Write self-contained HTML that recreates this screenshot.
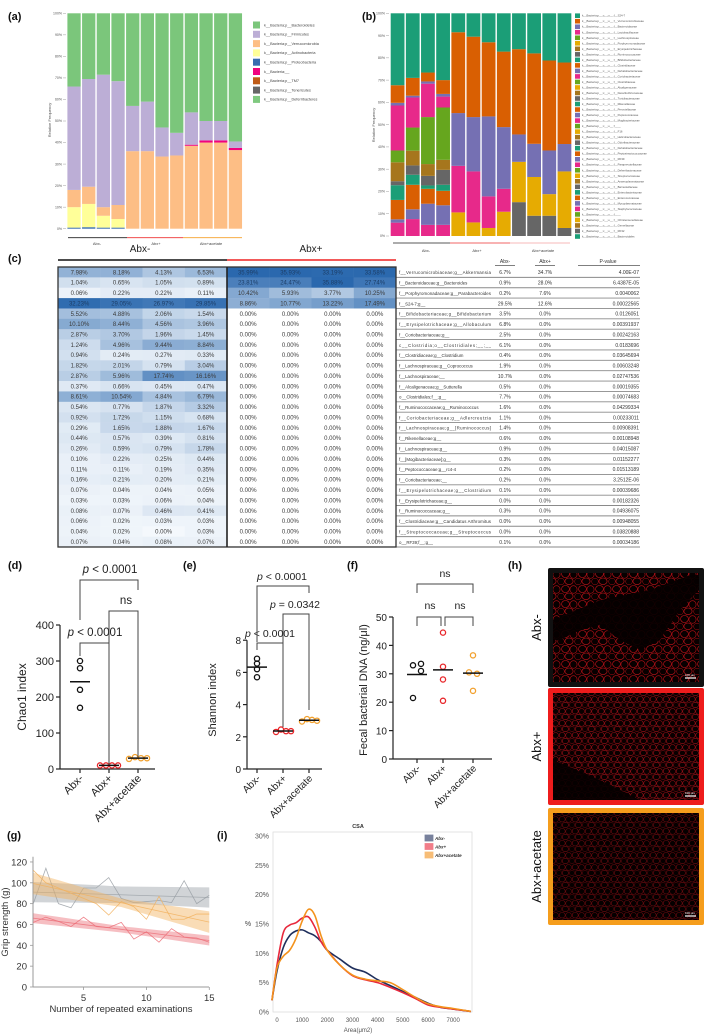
<!DOCTYPE html>
<html><head><meta charset="utf-8">
<style>
html,body{margin:0;padding:0;background:#fff;}
svg{display:block;font-family:"Liberation Sans",Arial,sans-serif;}
</style></head>
<body>
<svg id="fig" width="709" height="1035" viewBox="0 0 709 1035" xmlns="http://www.w3.org/2000/svg">
<defs>
<pattern id="cellsA" width="17" height="15" patternUnits="userSpaceOnUse">
<rect width="17" height="15" fill="#070000"/>
<ellipse cx="4.5" cy="4" rx="3.9" ry="3.5" fill="none" stroke="#c8121a" stroke-width="0.6"/>
<ellipse cx="12.5" cy="4.5" rx="3.6" ry="3.8" fill="none" stroke="#b80f15" stroke-width="0.6"/>
<ellipse cx="8" cy="11.3" rx="4.1" ry="3.3" fill="none" stroke="#cc141b" stroke-width="0.6"/>
<ellipse cx="16.5" cy="11.5" rx="2.8" ry="3.1" fill="none" stroke="#a90d13" stroke-width="0.5"/>
<ellipse cx="0.5" cy="11.5" rx="2.8" ry="3.1" fill="none" stroke="#a90d13" stroke-width="0.5"/>
</pattern>
<pattern id="cellsB" width="13" height="12" patternUnits="userSpaceOnUse">
<rect width="13" height="12" fill="#080000"/>
<ellipse cx="3.2" cy="3.2" rx="3" ry="2.8" fill="none" stroke="#a8111a" stroke-width="0.55"/>
<ellipse cx="9.6" cy="3.4" rx="2.9" ry="2.9" fill="none" stroke="#990e15" stroke-width="0.55"/>
<ellipse cx="6.4" cy="9" rx="3.2" ry="2.7" fill="none" stroke="#b0131b" stroke-width="0.55"/>
<ellipse cx="13" cy="9" rx="2.6" ry="2.6" fill="none" stroke="#900d13" stroke-width="0.5"/>
<ellipse cx="0" cy="9" rx="2.6" ry="2.6" fill="none" stroke="#900d13" stroke-width="0.5"/>
</pattern>
</defs>
</svg>
<script>
// ---------------- DATA ----------------
// (a) phylum composition, % per sample (12 samples)
const aProteo  = [0.5,0.7,0.5,0.5,0,0,0,0,0,0,0,0];
const aActino  = [9.5,10.8,5.5,4,0,0,0,0,0,0,0,0];
const aVerruco = [8,8,4,6.5,36,36,33.5,34,38.5,40,40,36.5];
const aOther   = [0,0,0,0,0,0,0,0,0.5,1,1,1];
const aFirm    = [48,50,61.5,57.5,21,23,13.5,10.5,15,9,9,3];
const aLegend  = ["k__Bacteria;p__Bacteroidetes","k__Bacteria;p__Firmicutes","k__Bacteria;p__Verrucomicrobia","k__Bacteria;p__Actinobacteria","k__Bacteria;p__Proteobacteria","k__Bacteria;__","k__Bacteria;p__TM7","k__Bacteria;p__Tenericutes","k__Bacteria;p__Deferribacteres"];
// (b) family composition, bottom-up segments per sample
const bValues = [
 [6,1.5,8.7,6.6,1.8,8.5,5.3,20.2,1.2,7.9,32.3],
 [7.6,4.4,11,4.5,4.2,6.6,10.4,13.5,0.8,8,29],
 [5,9.5,6.7,1.5,4.3,5.3,21.1,15,1,4,26.6],
 [5,8.8,6.5,2.7,6.7,4.5,23.5,4.9,1.2,6.2,30],
 [10.6,20.9,23.7,36.3,8.5],
 [6.1,22.9,24.4,36.1,10.5],
 [3.6,14.2,35.9,33.3,13],
 [10.9,10.3,27.7,33.9,17.2],
 [15.2,18.1,12.3,38.3,16.1],
 [9.1,17.4,14.9,40.6,18],
 [9.1,9.7,19.6,40.4,21.2],
 [3.6,25.4,12.3,36.6,22.1]];
const bColors = [
 "kpotrbgkpot","kpotrbgkpot","kpotrbgkpot","kpotrbgkpot",
 "ykpot","ykpot","ykpot","ykpot","rypot","rypot","rypot","rypot"];
const bLegend = ["S24-7","Verrucomicrobiaceae","Bacteroidaceae","Lactobacillaceae","Lachnospiraceae","Porphyromonadaceae","Erysipelotrichaceae","Ruminococcaceae","Bifidobacteriaceae","Clostridiaceae","Dehalobacteriaceae","Coriobacteriaceae","Clostridiaceae","Alcaligenaceae","Desulfovibrionaceae","Turicibacteraceae","Rikenellaceae","Prevotellaceae","Peptococcaceae","Mogibacteriaceae","__","F16","Helicobacteraceae","Odoribacteraceae","Dehalobacteriaceae","Peptostreptococcaceae","RF39","Paraprevotellaceae","Deferribacteraceae","Streptococcaceae","Anaeroplasmataceae","Barnesiellaceae","Enterobacteriaceae","Enterococcaceae","Mycoplasmataceae","Staphylococcaceae","__","Christensenellaceae","Gemellaceae","RF32","Bacteroidales"];
// (c) table
const tAbxMinus = [
 [7.98,8.18,4.13,6.53],[1.04,0.65,1.05,0.89],[0.06,0.22,0.22,0.11],[32.23,29.05,26.97,29.85],
 [5.52,4.88,2.06,1.54],[10.10,8.44,4.56,3.96],[2.87,3.70,1.96,1.45],[1.24,4.96,9.44,8.84],
 [0.94,0.24,0.27,0.33],[1.82,2.01,0.79,3.04],[2.87,5.96,17.74,16.16],[0.37,0.66,0.45,0.47],
 [8.61,10.54,4.84,6.79],[0.54,0.77,1.87,3.32],[0.92,1.72,1.15,0.68],[0.29,1.65,1.88,1.67],
 [0.44,0.57,0.39,0.81],[0.26,0.59,0.79,1.78],[0.10,0.22,0.25,0.44],[0.11,0.11,0.19,0.35],
 [0.16,0.21,0.20,0.21],[0.07,0.04,0.04,0.05],[0.03,0.03,0.06,0.04],[0.08,0.07,0.46,0.41],
 [0.06,0.02,0.03,0.03],[0.04,0.02,0.00,0.03],[0.07,0.04,0.08,0.07]];
const tAbxPlusTop = [[35.99,35.93,33.19,33.58],[23.81,24.47,35.88,27.74],[10.42,5.93,3.77,10.25],[8.86,10.77,13.22,17.49]];
const tTaxa = ["f__Verrucomicrobiaceae;g__Akkermansia","f__Bacteroidaceae;g__Bacteroides","f__Porphyromonadaceae;g__Parabacteroides","f__S24-7;g__","f__Bifidobacteriaceae;g__Bifidobacterium","f__Erysipelotrichaceae;g__Allobaculum","f__Coriobacteriaceae;g__","c__Clostridia;o__Clostridiales;__;__","f__Clostridiaceae;g__Clostridium","f__Lachnospiraceae;g__Coprococcus","f__Lachnospiraceae;__","f__Alcaligenaceae;g__Sutterella","o__Clostridiales;f__;g__","f__Ruminococcaceae;g__Ruminococcus","f__Coriobacteriaceae;g__Adlercreutzia","f__Lachnospiraceae;g__[Ruminococcus]","f__Rikenellaceae;g__","f__Lachnospiraceae;g__","f__[Mogibacteriaceae];g__","f__Peptococcaceae;g__rc4-4","f__Coriobacteriaceae;__","f__Erysipelotrichaceae;g__Clostridium","f__Erysipelotrichaceae;g__","f__Ruminococcaceae;g__","f__Clostridiaceae;g__Candidatus Arthromitus","f__Streptococcaceae;g__Streptococcus","o__RF39;f__;g__"];
const tMeanMinus = ["6.7%","0.9%","0.2%","29.5%","3.5%","6.8%","2.5%","6.1%","0.4%","1.9%","10.7%","0.5%","7.7%","1.6%","1.1%","1.4%","0.6%","0.9%","0.3%","0.2%","0.2%","0.1%","0.0%","0.3%","0.0%","0.0%","0.1%"];
const tMeanPlus = ["34.7%","28.0%","7.6%","12.6%","0.0%","0.0%","0.0%","0.0%","0.0%","0.0%","0.0%","0.0%","0.0%","0.0%","0.0%","0.0%","0.0%","0.0%","0.0%","0.0%","0.0%","0.0%","0.0%","0.0%","0.0%","0.0%","0.0%"];
const tPval = ["4.00E-07","6.4387E-05","0.0040062","0.00022565","0.0126051","0.00391937","0.00242163","0.0183696","0.03645694","0.00603248","0.02747536","0.00019355","0.00074683","0.04299334","0.00233011","0.00908391","0.00108948","0.04015087","0.01152277","0.01513189","3.2512E-06","0.00039686","0.00182326","0.04936075","0.00948055","0.03820888","0.00034186"];
// (d)(e)(f)
const groups = ["Abx-","Abx+","Abx+acetate"];
const chaoMinus = [300,280,220,170], chaoPlus = [10,10,10,10], chaoAce = [28,33,30,30];
const shanMinus = [6.85,6.55,6.2,5.7], shanPlus = [2.3,2.45,2.35,2.35], shanAce = [2.95,3.1,3.05,3.0];
const dnaMinus = [33,33.5,31,21.5], dnaPlus = [44.5,32.5,28,20.5], dnaAce = [36.5,30.5,30,24];
// (g) grip strength
const gripExam = [1,2,3,4,5,6,7,8,9,10,11,12,13,14,15];
const gripMinus = [80,114,80,76,95,95,105,85,81,82,83,81,102,80,88];
const gripPlus  = [62,67,63,58,67,58,57,62,46,53,43,56,48,47,43];
const gripAce   = [112,100,95,90,85,80,69,82,77,65,87,65,65,70,70];
// (i) CSA distribution
const csaArea  = [-200,0,250,500,750,1000,1250,1500,1750,2000,2500,3000,3500,4000,4500,5000,5500,6000,6500,7000,7700];
const csaMinus = [2,7,11,13,13.8,14,13.5,13,12,10.5,9,7.5,6.8,5.5,4.5,3.5,2.5,1.5,0.8,0.5,0.1];
const csaPlus  = [2,8,13.5,14.8,15.2,16,16.2,14.5,12,10.5,8,6.2,5.5,5,4.2,3.3,2.3,1.2,0.8,0.5,0.1];
const csaAce   = [2,7.5,9.5,10.5,12.5,15.5,17.5,16.5,13,10.5,8,6.3,5.6,5.3,5,3.8,2.5,1.4,0.9,0.6,0.1];

// ---------------- HELPERS ----------------
const NS = "http://www.w3.org/2000/svg";
const svg = document.getElementById("fig");
function mk(tag, attrs, parent){
  const e = document.createElementNS(NS, tag);
  for (const k in attrs) e.setAttribute(k, attrs[k]);
  (parent || svg).appendChild(e);
  return e;
}
function nm(e, name){
  
  
  return e;
}
function txt(x, y, s, attrs, name, parent){
  const e = mk("text", Object.assign({x:x, y:y}, attrs || {}), parent);
  e.textContent = s;
  nm(e, name);
  return e;
}
function grp(name){ const g = mk("g", {}); nm(g, name); return g; }

// panel labels
[["(a)",8,20],["(b)",362,20],["(c)",8,262],["(d)",8,569],["(e)",183,569],["(f)",347,569],["(h)",508,569],["(g)",7,839],["(i)",217,839]].forEach(p=>{
  txt(p[1], p[2], p[0], {"font-size":11, "font-weight":"bold", fill:"#111"}, "panel-label-" + p[0].replace(/[()]/g,""));
});

// ---------------- (a) ----------------
(function(){
  const g = grp("phylum-bar-chart");
  const ya = v => 228.7 - v*2.154;
  const x0 = 66.7, bw = 14.67;
  for (let t=0; t<=100; t+=10){
    const l = mk("line",{x1:63,x2:66,y1:ya(t),y2:ya(t),stroke:"#888","stroke-width":0.4},g); nm(l,"y-tick");
    txt(62, ya(t)+1.2, t+"%", {"font-size":3.5,"text-anchor":"end",fill:"#555"}, "y-tick-label", g);
  }
  txt(0,0,"Relative Frequency",{"font-size":4,fill:"#555","text-anchor":"middle",transform:"translate(51,120) rotate(-90)"},"y-axis-title",g);
  const cols = ["#386cb0","#ffff99","#fdbe85","#f0027f","#bcaed6","#7bc67b"];
  for (let i=0;i<12;i++){
    const vals = [aProteo[i],aActino[i],aVerruco[i],aOther[i],aFirm[i]];
    const s = vals.reduce((a,b)=>a+b,0);
    vals.push(100 - s);
    let cum = 0;
    vals.forEach((v,j)=>{
      if (v<=0) return;
      const r = mk("rect",{x:x0+i*bw+0.7,y:ya(cum+v),width:bw-1.4,height:v*2.154,fill:cols[j]},g);
      nm(r,"bar-segment");
      cum += v;
    });
  }
  const lc = ["#7bc67b","#bcaed6","#fdbe85","#ffff99","#386cb0","#f0027f","#bf5b17","#666666","#7fc97f"];
  aLegend.forEach((s,i)=>{
    const y = 25 + i*9.3;
    const r = mk("rect",{x:253,y:y-3.5,width:7,height:7,fill:lc[i]},g); nm(r,"legend-swatch");
    txt(264, y+1.3, s, {"font-size":3.8,fill:"#444"}, "legend-entry", g);
  });
  [["#222",68,127,"Abx-",97],["#e33",127,183,"Abx+",156],["#f5a02a",183,242,"Abx+acetate",211]].forEach(q=>{
    const l = mk("line",{x1:q[1],x2:q[2],y1:237.7,y2:237.7,stroke:q[0],"stroke-width":0.8},g); nm(l,"group-line");
    txt(q[4], 245, q[3], {"font-size":4,"text-anchor":"middle",fill:"#444"}, "group-label", g);
  });
})();

// ---------------- (b) ----------------
(function(){
  const g = grp("family-bar-chart");
  const yb = v => 236 - v*2.227;
  const x0 = 390, bw = 15.17;
  const pal = {t:"#1b9e77",o:"#d95f02",p:"#7570b3",k:"#e7298a",g:"#66a61e",y:"#e6ab02",b:"#a6761d",r:"#666666"};
  for (let t=0;t<=100;t+=10){
    const l = mk("line",{x1:386,x2:389,y1:yb(t),y2:yb(t),stroke:"#888","stroke-width":0.4},g); nm(l,"y-tick");
    txt(385, yb(t)+1.2, t+"%", {"font-size":3.5,"text-anchor":"end",fill:"#555"}, "y-tick-label", g);
  }
  txt(0,0,"Relative Frequency",{"font-size":4,fill:"#555","text-anchor":"middle",transform:"translate(375,125) rotate(-90)"},"y-axis-title",g);
  bValues.forEach((vals,i)=>{
    let cum = 0;
    vals.forEach((v,j)=>{
      const r = mk("rect",{x:x0+i*bw+0.7,y:yb(cum+v),width:bw-1.4,height:v*2.227,fill:pal[bColors[i][j]]},g);
      nm(r,"bar-segment");
      cum += v;
    });
  });
  const cyc = ["#1b9e77","#d95f02","#7570b3","#e7298a","#66a61e","#e6ab02","#a6761d","#666666"];
  bLegend.forEach((s,i)=>{
    const y = 15.7 + i*5.52;
    const r = mk("rect",{x:575,y:y-2.3,width:5,height:4.6,fill:cyc[i%8]},g); nm(r,"legend-swatch");
    txt(582, y+1, "k__Bacteria;p__;c__;o__;f__" + s, {"font-size":2.8,fill:"#555"}, "legend-entry", g);
  });
  [["#222",393,450,"Abx-",426],["#e33",450,510,"Abx+",477],["#f5a0a0",510,570,"Abx+acetate",543]].forEach(q=>{
    const l = mk("line",{x1:q[1],x2:q[2],y1:243,y2:243,stroke:q[0],"stroke-width":0.8},g); nm(l,"group-line");
    txt(q[4], 252, q[3], {"font-size":4,"text-anchor":"middle",fill:"#444"}, "group-label", g);
  });
})();

// ---------------- (c) ----------------
(function(){
  const g = grp("taxa-heatmap-table");
  const top = 267, rh = 10.37, cw = 42.25, xl = 58, xm = 227, xr = 396;
  txt(140, 252, "Abx-", {"font-size":10,"text-anchor":"middle",fill:"#222"}, "table-header-abx-minus", g);
  txt(311, 252, "Abx+", {"font-size":10,"text-anchor":"middle",fill:"#222"}, "table-header-abx-plus", g);
  let l = mk("line",{x1:xl,x2:xm,y1:260,y2:260,stroke:"#111","stroke-width":1.6},g); nm(l,"group-line-abx-minus");
  l = mk("line",{x1:xm,x2:xr,y1:260,y2:260,stroke:"#e22","stroke-width":1.6},g); nm(l,"group-line-abx-plus");
  function cellColor(v){
    const t = Math.min(1, Math.sqrt(v/34));
    const a = [244,248,252], b = [42,104,174];
    const c = a.map((x,i)=>Math.round(x + (b[i]-x)*t));
    return "rgb(" + c.join(",") + ")";
  }
  tAbxMinus.forEach((row,i)=>{
    const y = top + i*rh;
    const plus = i < tAbxPlusTop.length ? tAbxPlusTop[i] : [0,0,0,0];
    row.concat(plus).forEach((v,j)=>{
      const x = j<4 ? xl + j*cw : xm + (j-4)*cw;
      const r = mk("rect",{x:x,y:y,width:cw+0.2,height:rh+0.2,fill: v>0 ? cellColor(v) : (j<4 ? cellColor(0) : "#ffffff")},g);
      nm(r,"heatmap-cell");
      txt(x+cw/2, y+rh/2+2.1, v.toFixed(2)+"%", {"font-size":6,"text-anchor":"middle",fill: v>20 ? "#1c3d66" : "#3a3a3a"}, "cell-value", g);
    });
    const sep = mk("line",{x1:xr,x2:640,y1:y+rh,y2:y+rh,stroke:"#8a8a8a","stroke-width":0.9},g); nm(sep,"row-separator");
    const tl = txt(399, y+rh/2+2, tTaxa[i], {"font-size":4.4,fill:"#333"}, "taxon-label", g);
    if (tTaxa[i].length > 34) tl.setAttribute("textLength", 92);
    txt(505, y+rh/2+2, tMeanMinus[i], {"font-size":5,"text-anchor":"middle",fill:"#333"}, "mean-abx-minus", g);
    txt(545, y+rh/2+2, tMeanPlus[i], {"font-size":5,"text-anchor":"middle",fill:"#333"}, "mean-abx-plus", g);
    txt(639, y+rh/2+2, tPval[i], {"font-size":5,"text-anchor":"end",fill:"#333"}, "p-value", g);
  });
  const bd = mk("rect",{x:xl,y:top,width:xr-xl,height:27*rh,fill:"none",stroke:"#333","stroke-width":1.3},g); nm(bd,"table-border");
  l = mk("line",{x1:xm,x2:xm,y1:top,y2:top+27*rh,stroke:"#222","stroke-width":1.6},g); nm(l,"table-divider");
  [["Abx-",505,495,515],["Abx+",545,535,555],["P-value",608,578,640]].forEach(h=>{
    txt(h[1], 263, h[0], {"font-size":5,"text-anchor":"middle",fill:"#333"}, "column-header", g);
    const u = mk("line",{x1:h[2],x2:h[3],y1:265.5,y2:265.5,stroke:"#555","stroke-width":0.8},g); nm(u,"header-underline");
  });
})();

// ---------------- (d)(e)(f) dot plots ----------------
const grpColors = ["#111111","#e8262a","#f2a12e"];
function dotPlot(cfg){
  const g = grp(cfg.name);
  const y = v => cfg.y0 - (v - 0)*cfg.k;
  let l = mk("line",{x1:cfg.ax,x2:cfg.ax,y1:y(cfg.max),y2:cfg.y0,stroke:"#222","stroke-width":1.2},g); nm(l,"y-axis");
  l = mk("line",{x1:cfg.ax,x2:cfg.axEnd,y1:cfg.y0,y2:cfg.y0,stroke:"#222","stroke-width":1.2},g); nm(l,"x-axis");
  cfg.ticks.forEach(t=>{
    const tk = mk("line",{x1:cfg.ax-4,x2:cfg.ax,y1:y(t),y2:y(t),stroke:"#222","stroke-width":1.2},g); nm(tk,"y-tick");
    txt(cfg.ax-6, y(t)+4, String(t), {"font-size":cfg.fs,"text-anchor":"end",fill:"#222"}, "y-tick-label", g);
  });
  txt(0,0,cfg.title,{"font-size":cfg.fs+1,"text-anchor":"middle",fill:"#222",transform:"translate("+cfg.tx+","+cfg.ty+") rotate(-90)"},"y-axis-title",g);
  cfg.series.forEach((vals,gi)=>{
    const cx = cfg.cats[gi];
    const tk = mk("line",{x1:cx,x2:cx,y1:cfg.y0,y2:cfg.y0+4,stroke:"#222","stroke-width":1.2},g); nm(tk,"x-tick");
    txt(0,0,groups[gi],{"font-size":cfg.fs,"text-anchor":"end",fill:"#222",transform:"translate("+(cx+4)+","+(cfg.y0+10)+") rotate(-45)"},"x-tick-label",g);
    const mean = vals.reduce((a,b)=>a+b,0)/vals.length;
    vals.forEach((v,k)=>{
      const c = mk("circle",{cx:cx+cfg.offs[gi][k],cy:y(v),r:2.6,fill:"none",stroke:grpColors[gi],"stroke-width":1.3},g);
      nm(c,"data-point");
    });
    const m = mk("line",{x1:cx-10,x2:cx+10,y1:y(mean),y2:y(mean),stroke:"#111","stroke-width":1.5},g); nm(m,"mean-line");
  });
  cfg.brackets.forEach(b=>{
    const p = mk("path",{d:b[0],fill:"none",stroke:"#444","stroke-width":1},g); nm(p,"significance-bracket");
    const t = mk("text",{x:b[2],y:b[3],"font-size":cfg.fs+0.5,"text-anchor":"middle",fill:"#222"},g);
    nm(t,"significance-label");
    if (b[1].startsWith("p")){
      const s1 = mk("tspan",{"font-style":"italic"},t); s1.textContent = "p";
      const s2 = mk("tspan",{},t); s2.textContent = b[1].slice(1);
    } else t.textContent = b[1];
  });
}
dotPlot({name:"chao1-plot",ax:60,axEnd:155,y0:769,k:0.36,max:400,ticks:[0,100,200,300,400],fs:11,
  title:"Chao1 index",tx:26,ty:697,cats:[80,109,138],
  series:[chaoMinus,chaoPlus,chaoAce],
  offs:[[0,0,0,0],[-9,-3,3,9],[-9,-3,3,9]],
  brackets:[["M80,656 V643 H109 V765","p < 0.0001",95,636],["M109,643 V611 H138 V757","ns",126,604],["M80,620 V580 H138 V590","p < 0.0001",110,573]]});
dotPlot({name:"shannon-plot",ax:247,axEnd:322,y0:769,k:16.1,max:8,ticks:[0,2,4,6,8],fs:10,
  title:"Shannon index",tx:216,ty:700,cats:[257,283,309],
  series:[shanMinus,shanPlus,shanAce],
  offs:[[0,0,0,0],[-7,-2,3,8],[-7,-2,3,8]],
  brackets:[["M257,650 V643 H283 V727","p < 0.0001",270,637],["M283,643 V614 H309 V710","p = 0.0342",295,608],["M257,642 V586 H309 V593","p < 0.0001",282,580]]});
dotPlot({name:"fecal-dna-plot",ax:393,axEnd:492,y0:759,k:2.84,max:50,ticks:[0,10,20,30,40,50],fs:10,
  title:"Fecal bacterial DNA (ng/μl)",tx:367,ty:690,cats:[417,443,473],
  series:[dnaMinus,dnaPlus,dnaAce],
  offs:[[-4,4,4,-4],[0,0,0,0],[0,-4,4,0]],
  brackets:[["M417,593 V584 H473 V593","ns",445,577],["M417,626 V617 H441 V626","ns",430,609],["M445,626 V617 H473 V626","ns",460,609]]});

// ---------------- (h) images ----------------
(function(){
  const g = grp("muscle-histology-panels");
  const panels = [["Abx-",568,687,"#111","cellsA"],["Abx+",688,805,"#ee1c1c","cellsB"],["Abx+acetate",808,925,"#f59d1c","cellsB"]];
  panels.forEach((p,i)=>{
    const b = mk("rect",{x:548,y:p[1],width:156,height:p[2]-p[1],fill:p[3],rx:2},g); nm(b,"image-frame");
    const im = mk("rect",{x:553,y:p[1]+5,width:146,height:p[2]-p[1]-10,fill:"url(#"+p[4]+")"},g); nm(im,"micrograph");
    if (i===0){
      const d = mk("path",{d:"M553,620 L600,600 L650,590 L690,575 L699,575 L699,590 L680,610 L660,640 L640,650 L620,640 L600,625 L580,630 L560,640 L553,640 Z",fill:"#050000",opacity:0.92},g); nm(d,"connective-tissue");
    }
    if (i===1){
      const d = mk("path",{d:"M553,760 L600,780 L640,800 L553,800 Z",fill:"#060000",opacity:0.9},g); nm(d,"dark-region");
    }
    if (i===2){
      const d = mk("rect",{x:553,y:p[1]+5,width:146,height:p[2]-p[1]-10,fill:"#000",opacity:0.3},g); nm(d,"dim-overlay");
    }
    const sb = mk("line",{x1:685,x2:696,y1:p[2]-9,y2:p[2]-9,stroke:"#fff","stroke-width":1.2},g); nm(sb,"scale-bar");
    txt(690, p[2]-11, "100 μm", {"font-size":3,"text-anchor":"middle",fill:"#fff"}, "scale-bar-label", g);
    txt(0,0,p[0],{"font-size":13,"text-anchor":"middle",fill:"#111",transform:"translate("+541+","+((p[1]+p[2])/2)+") rotate(-90)"},"row-label",g);
  });
})();

// ---------------- (g) grip strength ----------------
(function(){
  const g = grp("grip-strength-chart");
  const xg = n => 33.3 + (n-1)*12.57;
  const yg = v => 987 - v*1.042;
  let l = mk("line",{x1:33,x2:33,y1:yg(125),y2:987,stroke:"#999","stroke-width":1},g); nm(l,"y-axis");
  l = mk("line",{x1:33,x2:209,y1:987,y2:987,stroke:"#999","stroke-width":1},g); nm(l,"x-axis");
  [0,20,40,60,80,100,120].forEach(t=>{
    const tk = mk("line",{x1:30,x2:33,y1:yg(t),y2:yg(t),stroke:"#999","stroke-width":0.8},g); nm(tk,"y-tick");
    txt(27, yg(t)+3.5, String(t), {"font-size":9.5,"text-anchor":"end",fill:"#333"}, "y-tick-label", g);
  });
  [5,10,15].forEach(t=>{
    const tk = mk("line",{x1:xg(t),x2:xg(t),y1:987,y2:990,stroke:"#999","stroke-width":0.8},g); nm(tk,"x-tick");
    txt(xg(t), 1001, String(t), {"font-size":9.5,"text-anchor":"middle",fill:"#333"}, "x-tick-label", g);
  });
  txt(121, 1012, "Number of repeated examinations", {"font-size":9.5,"text-anchor":"middle",fill:"#333"}, "x-axis-title", g);
  txt(0,0,"Grip strength (g)",{"font-size":9.5,"text-anchor":"middle",fill:"#333",transform:"translate(8,922) rotate(-90)"},"y-axis-title",g);
  function fit(vals){
    const n = gripExam.length;
    const mx = gripExam.reduce((a,b)=>a+b,0)/n, my = vals.reduce((a,b)=>a+b,0)/n;
    let sxy=0,sxx=0;
    gripExam.forEach((x,i)=>{sxy+=(x-mx)*(vals[i]-my); sxx+=(x-mx)*(x-mx);});
    const b = sxy/sxx; return {a:my-b*mx,b:b,mx:mx};
  }
  const series = [[gripMinus,"#9aa0a6","gray",8,0.25],[gripAce,"#f2b15e","orange",4,0.9],[gripPlus,"#ec6f78","red",3,0.25]];
  series.forEach(s=>{
    const f = fit(s[0]);
    const up=[], dn=[];
    gripExam.forEach(x=>{
      const c = f.a + f.b*x, h = s[3] + s[4]*Math.abs(x-f.mx);
      up.push(xg(x)+","+yg(c+h)); dn.unshift(xg(x)+","+yg(c-h));
    });
    const band = mk("polygon",{points:up.concat(dn).join(" "),fill:s[1],opacity:0.45},g); nm(band,"confidence-band-"+s[2]);
    const fl = mk("line",{x1:xg(1),x2:xg(15),y1:yg(f.a+f.b),y2:yg(f.a+f.b*15),stroke:s[1],"stroke-width":0.8,opacity:0.8},g); nm(fl,"trend-line-"+s[2]);
    const pts = gripExam.map((x,i)=>xg(x)+","+yg(s[0][i])).join(" ");
    const pl = mk("polyline",{points:pts,fill:"none",stroke:s[1],"stroke-width":0.8,opacity:0.85},g); nm(pl,"series-line-"+s[2]);
  });
})();

// ---------------- (i) CSA ----------------
(function(){
  const g = grp("csa-distribution-chart");
  const xi = v => 277 + v*0.02517;
  const yi = p => 1012 - p*5.867;
  const fr = mk("rect",{x:273,y:832,width:199,height:180,fill:"#fff",stroke:"#ddd","stroke-width":0.8},g); nm(fr,"plot-frame");
  txt(358, 828, "CSA", {"font-size":5.5,"font-weight":"bold","text-anchor":"middle",fill:"#333"}, "chart-title", g);
  [0,5,10,15,20,25,30].forEach(t=>{
    txt(269, yi(t)+2.5, t+"%", {"font-size":7,"text-anchor":"end",fill:"#555"}, "y-tick-label", g);
  });
  [0,1000,2000,3000,4000,5000,6000,7000].forEach(t=>{
    txt(xi(t), 1022, String(t), {"font-size":6,"text-anchor":"middle",fill:"#555"}, "x-tick-label", g);
  });
  txt(358, 1032, "Area(μm2)", {"font-size":6,"text-anchor":"middle",fill:"#555"}, "x-axis-title", g);
  txt(248, 926, "%", {"font-size":7,"text-anchor":"middle",fill:"#444"}, "y-axis-title", g);
  function smooth(vals){
    const P = csaArea.map((a,i)=>[xi(a), yi(vals[i])]);
    let d = "M"+P[0][0]+","+P[0][1];
    for (let i=0;i<P.length-1;i++){
      const p0=P[Math.max(0,i-1)], p1=P[i], p2=P[i+1], p3=P[Math.min(P.length-1,i+2)];
      const c1=[p1[0]+(p2[0]-p0[0])/6, p1[1]+(p2[1]-p0[1])/6];
      const c2=[p2[0]-(p3[0]-p1[0])/6, p2[1]-(p3[1]-p1[1])/6];
      d += " C"+c1[0]+","+c1[1]+" "+c2[0]+","+c2[1]+" "+p2[0]+","+p2[1];
    }
    return d;
  }
  const ser = [[csaMinus,"#1f2f5c","Abx-"],[csaPlus,"#e8283c","Abx+"],[csaAce,"#f3921c","Abx+acetate"]];
  ser.forEach(s=>{
    const p = mk("path",{d:smooth(s[0]),fill:"none",stroke:s[1],"stroke-width":1.6},g); nm(p,"curve-"+s[2]);
  });
  ser.forEach((s,i)=>{
    const y = 838 + i*8.5;
    const r = mk("rect",{x:425,y:y-3,width:8,height:6,fill:s[1],opacity:0.6,stroke:s[1],"stroke-width":0.8},g); nm(r,"legend-swatch");
    txt(435, y+2, s[2], {"font-size":4.5,"font-style":"italic","font-weight":"bold",fill:"#333"}, "legend-entry", g);
  });
})();
</script>
</body></html>
